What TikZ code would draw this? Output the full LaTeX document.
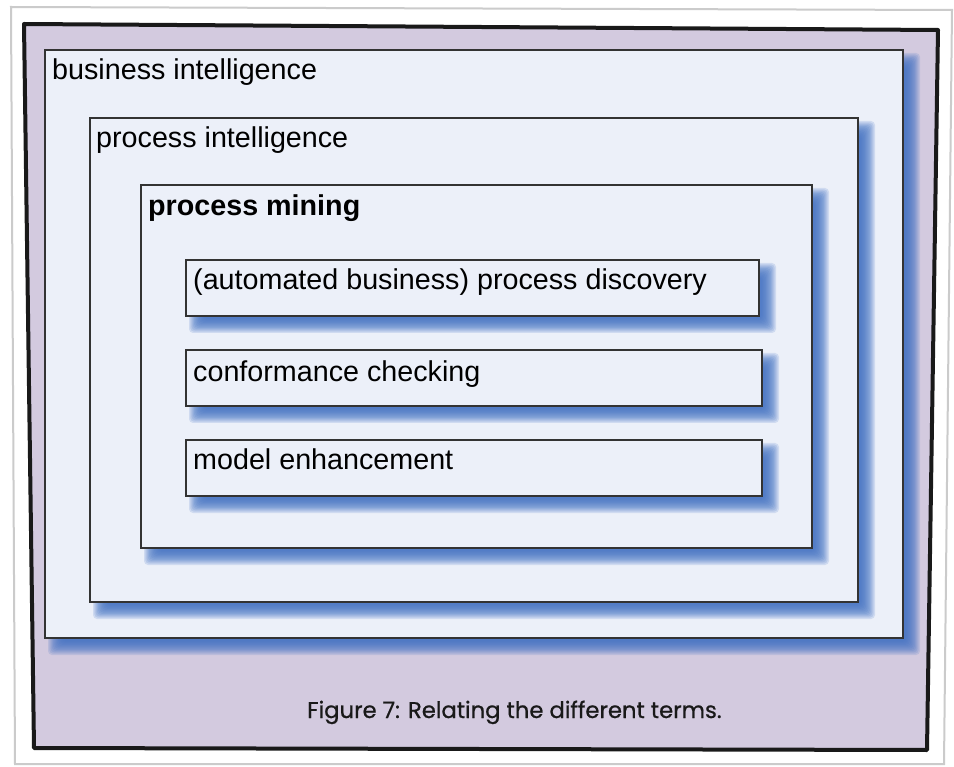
\documentclass[tikz,border=0pt]{standalone}
\usepackage{fontspec}
\setmainfont{Liberation Sans}
\newfontfamily\capfont[FakeBold=0.8]{Poppins}
\definecolor{lav}{HTML}{D3CADF}
\definecolor{boxfill}{HTML}{ECF0F9}
\definecolor{shblue}{HTML}{4472C4}
\definecolor{paperline}{HTML}{CBCBCB}
\tikzset{
  termbox/.style={draw=black!80, line width=1.1pt, fill=boxfill, inner sep=0pt, outer sep=0pt, rectangle},
  termtext/.style={anchor=base west, inner sep=0pt, font=\fontsize{28.7}{34}\selectfont, text=black},
  captext/.style={anchor=base west, inner sep=0pt, font=\capfont\fontsize{22.7}{27}\selectfont, text=black!90}
}
\newcommand\shadowedbox[5]{%
  \foreach \i in {0,...,11}{%
    \pgfmathsetmacro\rr{-7+14*\i/11}%
    \fill[shblue, opacity=0.17, rounded corners=4pt] ({#2+10+\rr},{#3+10+\rr}) rectangle ({#4+10-\rr},{#5+10-\rr});
  }%
  \node[termbox, minimum width={(#4-#2)*1pt}, minimum height={(#5-#3)*1pt}] (#1) at ({(#2+#4)/2},{(#3+#5)/2}) {};
}
\begin{document}
\begin{tikzpicture}[x=1pt,y=-1pt]
\useasboundingbox (0,0) rectangle (954,767);
\fill[white] (0,0) rectangle (954,767);
% paper
\draw[paperline, line width=2pt, fill=white] (11,7) -- (952,10) -- (944,764) -- (15,764) -- cycle;
% lavender panel
\draw[black!90, line width=4pt, fill=lav, line join=round] (24,24) -- (938,30) -- (927,750) -- (34,748) -- cycle;
% boxes
\shadowedbox{bi}{45}{50}{903}{638}
\node[termtext] (bit) at (52,80) {business intelligence};
\shadowedbox{pi}{90}{118}{858}{602}
\node[termtext] (pit) at (96,148) {process intelligence};
\shadowedbox{pm}{141}{185}{812}{548}
\node[termtext, font=\bfseries\fontsize{28.7}{34}\selectfont] (pmt) at (148,216) {process mining};
\shadowedbox{pd}{186}{260}{759}{316}
\node[termtext] (pdt) at (193,290) {(automated business) process discovery};
\shadowedbox{cc}{186}{350}{762}{406}
\node[termtext] (cct) at (193,382) {conformance checking};
\shadowedbox{me}{186}{440}{762}{496}
\node[termtext] (met) at (193,470) {model enhancement};
% caption
\node[captext] (cap) at (307,718) {Figure 7: Relating the different terms.};
\end{tikzpicture}
\end{document}
